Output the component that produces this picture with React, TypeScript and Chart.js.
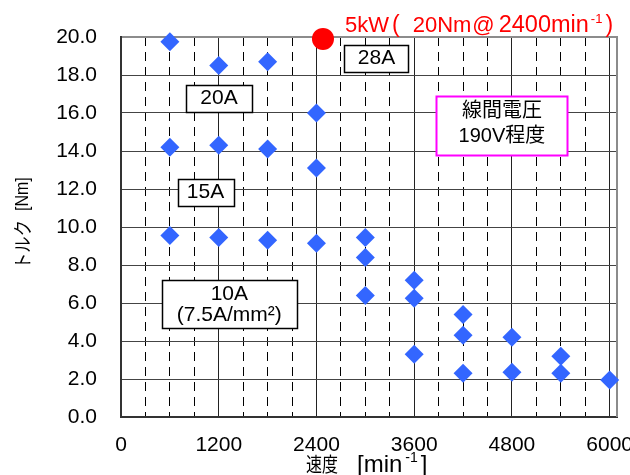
import React, { useEffect, useRef } from "react";
import { Chart, registerables } from "chart.js";

Chart.register(...registerables);

// ---- data ----
const SPEED = [
  600, 600, 600,
  1200, 1200, 1200,
  1800, 1800, 1800,
  2400, 2400, 2400,
  3000, 3000, 3000,
  3600, 3600, 3600,
  4200, 4200, 4200,
  4800, 4800,
  5400, 5400,
  6000,
];
const TORQUE = [
  19.75, 14.2, 9.55,
  18.5, 14.3, 9.45,
  18.7, 14.1, 9.3,
  16.0, 13.1, 9.15,
  9.45, 8.4, 6.4,
  7.2, 6.25, 3.3,
  5.4, 4.3, 2.3,
  4.2, 2.35,
  3.2, 2.3,
  1.95,
];
const RATED_SPEED = [2480];
const RATED_TORQUE = [19.9];

const X_TICK_LABELS = [0, 1200, 2400, 3600, 4800, 6000];
const X_MINOR_STEP = 300;
const X_MAX = 6090;
const Y_TICKS = [0, 2, 4, 6, 8, 10, 12, 14, 16, 18, 20];

const LATIN = "'Liberation Sans', Arial, sans-serif";
const CJK = "'Noto Sans CJK JP', sans-serif";
const MIX = "'Liberation Sans', 'Noto Sans CJK JP', sans-serif";

// annotation boxes (centre in data units, size in px)
const BOXES = [
  { lines: ["28A"], x: 3137, y: 18.88, w: 64, h: 27, stroke: "#000", lw: 1.5, gap: 0, shift: 0, font: `21px ${MIX}` },
  { lines: ["20A"], x: 1203, y: 16.76, w: 66, h: 27, stroke: "#000", lw: 1.5, gap: 0, shift: 0, font: `21px ${MIX}` },
  { lines: ["15A"], x: 1038, y: 11.84, w: 56, h: 27, stroke: "#000", lw: 1.5, gap: 0, shift: 0, font: `21px ${MIX}` },
  { lines: ["10A", "(7.5A/mm²)"], x: 1330, y: 5.94, w: 135, h: 48, stroke: "#000", lw: 1.5, gap: 21, shift: 1, font: `21px ${MIX}` },
  { lines: ["線間電圧", "190V程度"], x: 4677, y: 15.35, w: 131, h: 59, stroke: "#ff00ff", lw: 2, gap: 25, shift: -1, font: `20px ${MIX}` },
];

type Piece = { text: string; font: string; gap?: number; rise?: number; sx?: number };

function drawPieces(ctx: CanvasRenderingContext2D, pieces: Piece[], x: number, y: number) {
  let cx = x;
  for (const p of pieces) {
    ctx.font = p.font;
    cx += p.gap || 0;
    const sx = p.sx || 1;
    ctx.save();
    ctx.translate(cx, y - (p.rise || 0));
    ctx.scale(sx, 1);
    ctx.fillText(p.text, 0, 0);
    ctx.restore();
    cx += ctx.measureText(p.text).width * sx;
  }
}

const overlay = {
  id: "overlay",
  beforeDatasetsDraw(chart: any) {
    const { ctx, chartArea } = chart;
    ctx.save();
    ctx.strokeStyle = "#8c8c8c";
    ctx.lineWidth = 2;
    ctx.beginPath();
    ctx.moveTo(chartArea.right, chartArea.top - 1);
    ctx.lineTo(chartArea.right, chartArea.bottom);
    ctx.stroke();
    ctx.restore();
  },
  afterDatasetsDraw(chart: any) {
    const { ctx, scales } = chart;
    const xs = scales.x;
    const ys = scales.y;
    ctx.save();
    for (const b of BOXES) {
      const cx = xs.getPixelForValue(b.x);
      const cy = ys.getPixelForValue(b.y);
      const l = Math.round(cx - b.w / 2) + 0.5;
      const t = Math.round(cy - b.h / 2) + 0.5;
      ctx.fillStyle = "#fff";
      ctx.fillRect(l, t, b.w, b.h);
      ctx.strokeStyle = b.stroke;
      ctx.lineWidth = b.lw;
      ctx.strokeRect(l, t, b.w, b.h);
      ctx.fillStyle = "#000";
      ctx.font = b.font;
      ctx.textAlign = "center";
      ctx.textBaseline = "middle";
      b.lines.forEach((txt, i) => {
        const off = (i - (b.lines.length - 1) / 2) * b.gap + b.shift;
        ctx.fillText(txt, cx, cy + off);
      });
    }
    ctx.restore();
  },
  afterDraw(chart: any) {
    const { ctx } = chart;
    ctx.save();
    ctx.textAlign = "left";
    // red title
    ctx.fillStyle = "#ff0000";
    ctx.textBaseline = "alphabetic";
    drawPieces(ctx, [
      { text: "5kW", font: `22px ${LATIN}` },
      { text: "(", font: `23px ${LATIN}`, gap: 3 },
      { text: "20Nm", font: `22px ${LATIN}`, gap: 13 },
      { text: "@", font: `22px ${LATIN}`, gap: 1 },
      { text: "2400min", font: `23.5px ${LATIN}`, gap: 4 },
      { text: "-1", font: `13px ${LATIN}`, gap: 2, rise: 9 },
      { text: ")", font: `23px ${LATIN}`, gap: 3 },
    ], 345, 31.7);
    // x title
    ctx.fillStyle = "#000";
    drawPieces(ctx, [
      { text: "速度", font: `20px ${CJK}`, sx: 0.8 },
      { text: "[", font: `24px ${LATIN}`, gap: 19 },
      { text: "min", font: `24px ${LATIN}` },
      { text: "-1", font: `14px ${LATIN}`, gap: 3, rise: 10 },
      { text: "]", font: `24px ${LATIN}`, gap: 3 },
    ], 306, 471.5);
    // y title
    ctx.translate(22.5, 269);
    ctx.rotate(-Math.PI / 2);
    ctx.textBaseline = "middle";
    drawPieces(ctx, [
      { text: "トルク", font: `19px ${CJK}`, sx: 0.86 },
      { text: "[Nm]", font: `19px ${LATIN}`, gap: 9, sx: 0.84 },
    ], 0, 0);
    ctx.restore();
  },
};

export default function App() {
  const ref = useRef<HTMLCanvasElement>(null);
  useEffect(() => {
    if (!ref.current) return;
    const chart = new Chart(ref.current, {
      type: "scatter",
      data: {
        datasets: [
          {
            label: "rated",
            data: RATED_SPEED.map((x, i) => ({ x, y: RATED_TORQUE[i] })),
            pointStyle: "circle",
            pointRadius: 11,
            backgroundColor: "#ff0000",
            borderColor: "#ff0000",
            borderWidth: 0,
            clip: false,
          } as any,
          {
            label: "measured",
            data: SPEED.map((x, i) => ({ x, y: TORQUE[i] })),
            pointStyle: "rectRot",
            pointRadius: 9.5,
            backgroundColor: "#3366ff",
            borderColor: "#3366ff",
            borderWidth: 0,
            clip: false,
          } as any,
        ],
      },
      options: {
        responsive: false,
        animation: false,
        events: [],
        layout: { padding: { top: 37, right: 13, left: 0, bottom: 0 } },
        plugins: { legend: { display: false }, tooltip: { enabled: false } },
        scales: {
          x: {
            type: "linear",
            min: 0,
            max: X_MAX,
            afterBuildTicks: (s: any) => {
              const last = X_TICK_LABELS[X_TICK_LABELS.length - 1];
              const t: any[] = [];
              for (let v = 0; v <= last; v += X_MINOR_STEP) t.push({ value: v });
              s.ticks = t;
            },
            afterFit: (s: any) => {
              s.height = 58;
              s.paddingLeft = 0;
              s.paddingRight = 0;
            },
            ticks: {
              autoSkip: false,
              maxRotation: 0,
              minRotation: 0,
              padding: 16,
              color: "#000",
              font: { family: MIX, size: 21 },
              callback: (v: any) => (X_TICK_LABELS.includes(Number(v)) ? String(v) : ""),
            },
            grid: {
              drawTicks: false,
              color: (c: any) => (c.tick && c.tick.value % 1200 === 0 ? "#222" : "#000"),
              lineWidth: 1,
            },
            border: {
              display: true,
              color: "#333",
              width: 2,
              dash: (c: any) => (c.tick && c.tick.value % 1200 !== 0 ? [9, 6] : []),
            },
          } as any,
          y: {
            type: "linear",
            min: 0,
            max: 20,
            afterBuildTicks: (s: any) => {
              s.ticks = Y_TICKS.map((v) => ({ value: v }));
            },
            afterFit: (s: any) => {
              s.width = 121;
            },
            ticks: {
              autoSkip: false,
              padding: 24,
              color: "#000",
              font: { family: MIX, size: 21 },
              callback: (v: any) => Number(v).toFixed(1),
            },
            grid: {
              drawTicks: false,
              color: (c: any) => (c.tick && c.tick.value === 20 ? "#8c8c8c" : "#444"),
              lineWidth: (c: any) => (c.tick && c.tick.value === 20 ? 2 : 1),
            },
            border: { display: true, color: "#333", width: 2 },
          } as any,
        },
      },
      plugins: [overlay],
    });
    return () => chart.destroy();
  }, []);
  return (
    <div style={{ position: "fixed", left: 0, top: 0, width: 630, height: 475, background: "#fff" }}>
      <canvas ref={ref} width={630} height={475} style={{ display: "block", width: 630, height: 475 }} />
    </div>
  );
}
